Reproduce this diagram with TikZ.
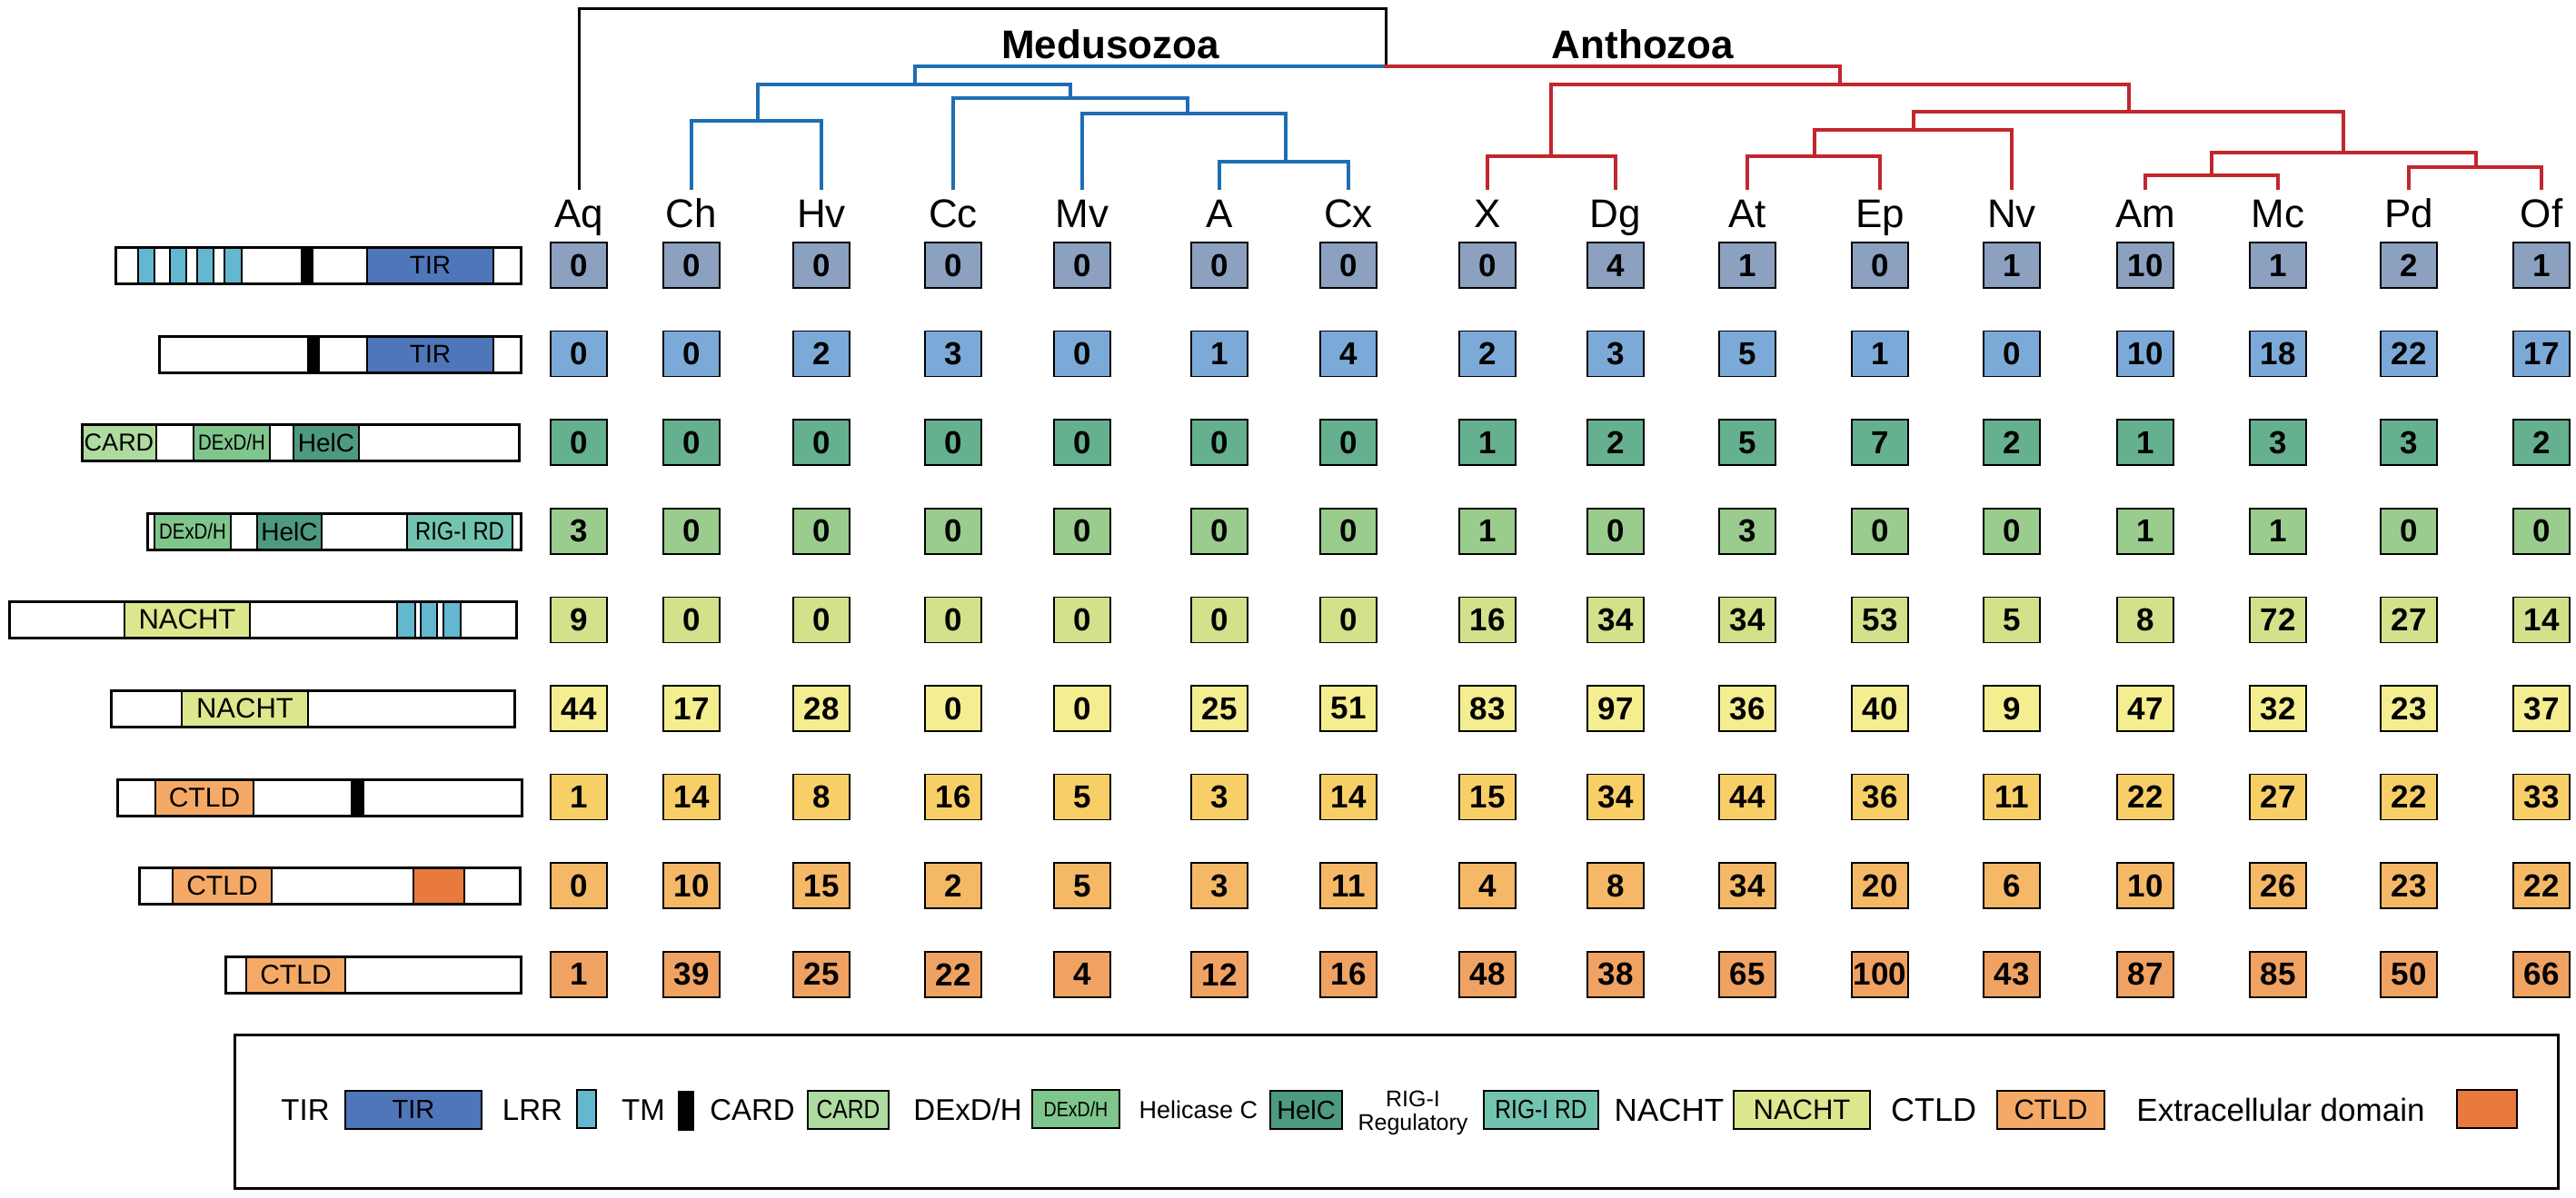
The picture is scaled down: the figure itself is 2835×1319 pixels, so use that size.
\documentclass[tikz,border=0pt]{standalone}
\usepackage{fontspec}
\usepackage{graphicx}
\setmainfont{Liberation Sans}
\definecolor{ra}{HTML}{8CA0C0}
\definecolor{rb}{HTML}{7CAAD8}
\definecolor{rc}{HTML}{65B08F}
\definecolor{rd}{HTML}{9ACD8D}
\definecolor{re}{HTML}{D4E08A}
\definecolor{rf}{HTML}{F5EE90}
\definecolor{rg}{HTML}{F8CF66}
\definecolor{rh}{HTML}{F5B866}
\definecolor{ri}{HTML}{F0A262}
\definecolor{tir}{HTML}{4F76B8}
\definecolor{lrr}{HTML}{63B7CF}
\definecolor{card}{HTML}{AEDCA0}
\definecolor{dexd}{HTML}{7FC68D}
\definecolor{helc}{HTML}{4D9A80}
\definecolor{rig}{HTML}{72C4B0}
\definecolor{nacht}{HTML}{DDE78E}
\definecolor{ctld}{HTML}{F4AA66}
\definecolor{extr}{HTML}{E87A3E}
\definecolor{treeblue}{HTML}{1F6DB5}
\definecolor{treered}{HTML}{C1272D}
\newcommand\dm[6]{\path[draw=black,line width=2pt,fill=#5] (#2,#4-20) rectangle (#3,#4+20);
  \node[dlab] (#1) at ({(#2+#3)/2},#4) {#6};}
\newcommand\pbox[3]{\draw[line width=3pt] (#1,#2-20) rectangle (#3,#2+20);}
\newcommand\cellrow[3]{%
  \foreach \v [count=\i from 0] in {#3} {%
    \pgfmathsetmacro\xx{{637,761,904,1049,1191,1342,1484,1637,1778,1923,2069,2214,2361,2507,2651,2797}[\i]}%
    \pgfmathsetmacro\yy{292+97.6*(#1-1)}%
    \node[cell,fill=#2] (c#1-\i) at (\xx,\yy) {\v};
  }}
\newcommand\cz[1]{\scalebox{0.85}[1]{#1}}
\begin{document}
\begin{tikzpicture}[x=1pt,y=-1pt,
  cell/.style={draw=black,line width=1.5pt,minimum width=62pt,minimum height=50pt,inner sep=0pt,font=\fontsize{35}{35}\selectfont\bfseries},
  leaf/.style={font=\fontsize{44}{44}\selectfont,anchor=base,inner sep=0pt},
  clade/.style={font=\fontsize{44}{44}\selectfont\bfseries,anchor=base,inner sep=0pt},
  bt/.style={draw=treeblue,line width=4pt,line cap=rect},
  rt/.style={draw=treered,line width=4pt,line cap=rect},
  kt/.style={draw=black,line width=3pt,line cap=rect},
  dlab/.style={font=\fontsize{28}{28}\selectfont,inner sep=0pt},
  leg/.style={font=\fontsize{33}{33}\selectfont,inner sep=0pt},
  lbox/.style={draw=black,line width=2.5pt,minimum height=42pt,inner sep=0pt,font=\fontsize{29}{29}\selectfont},
]
\useasboundingbox (0,0) rectangle (2835,1319);
\fill[white] (0,0) rectangle (2835,1319);

% ---------- leaf labels and tips
\foreach \n/\x in {Aq/637,Ch/761,Hv/904,Cc/1049,Mv/1191,A/1342,Cx/1484,X/1637,Dg/1778,At/1923,Ep/2069,Nv/2214,Am/2361,Mc/2507,Pd/2651,Of/2797}{
  \node[leaf] (\n) at (\x,250) {\n};
  \coordinate (t\n) at (\x,207);
}

% ---------- tree
\coordinate (root) at (1525,73);
\coordinate (ktop) at (1525,10);
\draw[kt] (tAq) |- (ktop) -- (root);

\coordinate (nChHv) at (834,133);
\coordinate (nACx) at (1415,178);
\coordinate (nMv) at (1307,125);
\coordinate (nCc) at (1178,108);
\coordinate (nMed) at (1007,93);
\draw[bt] (tCh) |- (nChHv) -| (tHv);
\draw[bt] (tA) |- (nACx) -| (tCx);
\draw[bt] (tMv) |- (nMv) -| (nACx);
\draw[bt] (tCc) |- (nCc) -| (nMv);
\draw[bt] (nChHv) |- (nMed) -| (nCc);
\draw[bt] (nMed) |- (root);

\coordinate (nXDg) at (1707,172);
\coordinate (nAtEp) at (1997,172);
\coordinate (nNv) at (2106,143);
\coordinate (nAmMc) at (2434,193);
\coordinate (nPdOf) at (2725,184);
\coordinate (nAmOf) at (2579,168);
\coordinate (nCore) at (2343,123);
\coordinate (nAnt) at (2025,93);
\draw[rt] (tX) |- (nXDg) -| (tDg);
\draw[rt] (tAt) |- (nAtEp) -| (tEp);
\draw[rt] (nAtEp) |- (nNv) -| (tNv);
\draw[rt] (tAm) |- (nAmMc) -| (tMc);
\draw[rt] (tPd) |- (nPdOf) -| (tOf);
\draw[rt] (nAmMc) |- (nAmOf) -| (nPdOf);
\draw[rt] (nNv) |- (nCore) -| (nAmOf);
\draw[rt] (nXDg) |- (nAnt) -| (nCore);
\draw[rt] (root) -| (nAnt);

\node[clade] (med) at (1222,65) {Medusozoa};
\node[clade] (ant) at (1808,65) {Anthozoa};

% ---------- table
\cellrow{1}{ra}{0,0,0,0,0,0,0,0,4,1,0,1,10,1,2,1}
\cellrow{2}{rb}{0,0,2,3,0,1,4,2,3,5,1,0,10,18,22,17}
\cellrow{3}{rc}{0,0,0,0,0,0,0,1,2,5,7,2,1,3,3,2}
\cellrow{4}{rd}{3,0,0,0,0,0,0,1,0,3,0,0,1,1,0,0}
\cellrow{5}{re}{9,0,0,0,0,0,0,16,34,34,53,5,8,72,27,14}
\cellrow{6}{rf}{44,17,28,0,0,25,51,83,97,36,40,9,47,32,23,37}
\cellrow{7}{rg}{1,14,8,16,5,3,14,15,34,44,36,11,22,27,22,33}
\cellrow{8}{rh}{0,10,15,2,5,3,11,4,8,34,20,6,10,26,23,22}
\cellrow{9}{ri}{1,39,25,22,4,12,16,48,38,65,100,43,87,85,50,66}

% ---------- protein architectures
% row 1
\dm{p1a}{152}{170}{292}{lrr}{}
\dm{p1b}{187}{205}{292}{lrr}{}
\dm{p1c}{217}{235}{292}{lrr}{}
\dm{p1d}{247}{266}{292}{lrr}{}
\dm{p1e}{332}{344}{292}{black}{}
\dm{p1f}{404}{543}{292}{tir}{TIR}
\pbox{127}{292}{573}
% row 2
\dm{p2a}{339}{351}{390}{black}{}
\dm{p2b}{404}{543}{390}{tir}{TIR}
\pbox{175}{390}{573}
% row 3
\dm{p3a}{90}{172}{487}{card}{\fontsize{27}{27}\selectfont CARD}
\dm{p3b}{213}{297}{487}{dexd}{\cz{\fontsize{24}{24}\selectfont DExD/H}}
\dm{p3c}{323}{395}{487}{helc}{HelC}
\pbox{90}{487}{571}
% row 4
\dm{p4a}{170}{254}{585}{dexd}{\cz{\fontsize{24}{24}\selectfont DExD/H}}
\dm{p4b}{283}{354}{585}{helc}{HelC}
\dm{p4c}{448}{564}{585}{rig}{\cz{RIG-I RD}}
\pbox{162}{585}{573}
% row 5
\dm{p5a}{137}{275}{682}{nacht}{\fontsize{31}{31}\selectfont NACHT}
\dm{p5b}{437}{457}{682}{lrr}{}
\dm{p5c}{463}{481}{682}{lrr}{}
\dm{p5d}{488}{507}{682}{lrr}{}
\pbox{10}{682}{568}
% row 6
\dm{p6a}{200}{339}{780}{nacht}{\fontsize{31}{31}\selectfont NACHT}
\pbox{122}{780}{566}
% row 7
\dm{p7a}{171}{279}{878}{ctld}{\fontsize{30}{30}\selectfont CTLD}
\dm{p7b}{387}{400}{878}{black}{}
\pbox{129}{878}{574}
% row 8
\dm{p8a}{190}{299}{975}{ctld}{\fontsize{30}{30}\selectfont CTLD}
\dm{p8b}{455}{511}{975}{extr}{}
\pbox{153}{975}{572}
% row 9
\dm{p9a}{271}{380}{1073}{ctld}{\fontsize{30}{30}\selectfont CTLD}
\pbox{248}{1073}{573}

% ---------- legend
\node[draw=black,line width=3pt,minimum width=2557pt,minimum height=169pt,inner sep=0pt] (legend) at (1536.5,1223.5) {};
\node[leg] (lTIR) at (336,1222) {TIR};
\node[lbox,fill=tir,minimum width=150pt] (bTIR) at (455,1222) {TIR};
\node[leg] (lLRR) at (586,1222) {LRR};
\node[lbox,fill=lrr,minimum width=21pt] (bLRR) at (645.5,1221) {};
\node[leg] (lTM) at (708,1222) {TM};
\node[lbox,fill=black,minimum width=16pt] (bTM) at (755,1223) {};
\node[leg] (lCARD) at (828,1222) {CARD};
\node[lbox,fill=card,minimum width=89pt] (bCARD) at (933.5,1222) {\cz{CARD}};
\node[leg] (lDEX) at (1065,1222) {DExD/H};
\node[lbox,fill=dexd,minimum width=96pt] (bDEX) at (1184,1221) {\cz{\fontsize{23}{23}\selectfont DExD/H}};
\node[leg,font=\fontsize{27}{27}\selectfont] (lHel) at (1319,1222) {Helicase C};
\node[lbox,fill=helc,minimum width=79pt] (bHel) at (1437.5,1222) {HelC};
\node[leg,align=center,font=\fontsize{25}{26}\selectfont] (lRIG) at (1555,1225) {RIG-I\\Regulatory};
\node[lbox,fill=rig,minimum width=126pt] (bRIG) at (1696,1222) {\cz{RIG-I RD}};
\node[leg,font=\fontsize{35}{35}\selectfont] (lNACHT) at (1837,1222) {NACHT};
\node[lbox,fill=nacht,minimum width=150pt,font=\fontsize{31}{31}\selectfont] (bNACHT) at (1983,1222) {NACHT};
\node[leg,font=\fontsize{36}{36}\selectfont] (lCTLD) at (2128,1222) {CTLD};
\node[lbox,fill=ctld,minimum width=118pt,font=\fontsize{31}{31}\selectfont] (bCTLD) at (2257,1222) {CTLD};
\node[leg,font=\fontsize{35}{35}\selectfont] (lExt) at (2510,1222) {Extracellular domain};
\node[lbox,fill=extr,minimum width=66pt] (bExt) at (2737,1221) {};
\end{tikzpicture}
\end{document}
